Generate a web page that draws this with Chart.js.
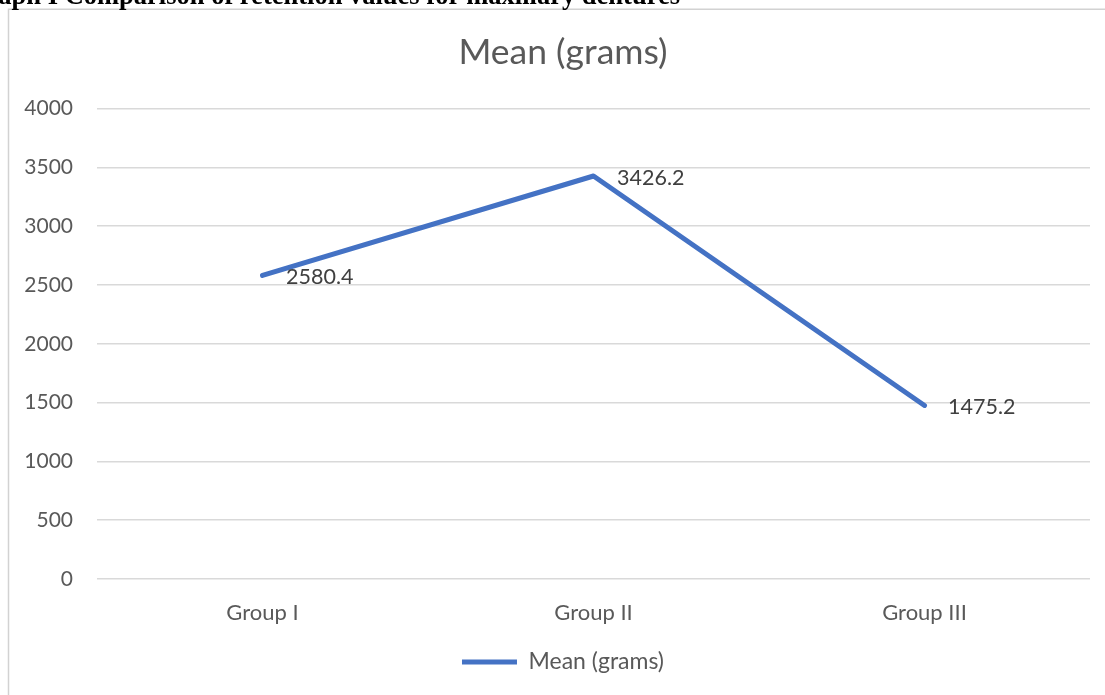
<!DOCTYPE html>
<html>
<head>
<meta charset="utf-8">
<script src="https://cdn.jsdelivr.net/npm/chart.js@4/dist/chart.umd.min.js"></script>
<style>
  html, body { margin: 0; padding: 0; background: #fff; overflow: hidden; }
  #wrap { position: relative; width: 1105px; height: 695px; overflow: hidden; }
  #chart { position: absolute; left: 0; top: 0; }
  #caption {
    position: absolute; right: 425px; top: -18px;
    font: bold 26.5px "Liberation Serif", "Times New Roman", serif;
    line-height: 26.5px; color: #000; white-space: nowrap;
  }
</style>
</head>
<body>
<div id="wrap">
  <canvas id="chart" width="1105" height="695"></canvas>
  <div id="caption">Graph I Comparison of retention values for maxillary dentures</div>
</div>
<script>
// Retention values (grams), maxillary dentures
const categories = ['Group I', 'Group II', 'Group III'];
const meanGrams = [2580.4, 3426.2, 1475.2];
const seriesName = 'Mean (grams)';
const yMin = 0;
const yMax = 4000;
const yStep = 500;

const FONT = 'Lato, Calibri, Carlito, "Open Sans", sans-serif';
const TEXT = '#595959';
const GRID = '#d9d9d9';
const LINE = '#4472C4';

// Light frame round the chart (left and top edges)
const framePlugin = {
  id: 'frame',
  beforeDraw(chart) {
    const ctx = chart.ctx;
    ctx.save();
    ctx.strokeStyle = '#d2d2d2';
    ctx.lineWidth = 1.5;
    ctx.beginPath();
    ctx.moveTo(8.5, 695);
    ctx.lineTo(8.5, 9.25);
    ctx.lineTo(1105, 9.25);
    ctx.stroke();
    ctx.restore();
  }
};

// Value labels placed to the right of each point
const valueLabels = {
  id: 'valueLabels',
  afterDatasetsDraw(chart) {
    const ctx = chart.ctx;
    const meta = chart.getDatasetMeta(0);
    const data = chart.data.datasets[0].data;
    ctx.save();
    ctx.font = '21.5px ' + FONT;
    ctx.fillStyle = '#404040';
    ctx.textAlign = 'left';
    ctx.textBaseline = 'middle';
    meta.data.forEach((pt, i) => {
      ctx.fillText(String(data[i]), pt.x + 23.5, pt.y + 2);
    });
    ctx.restore();
  }
};

new Chart(document.getElementById('chart'), {
  type: 'line',
  data: {
    labels: categories,
    datasets: [{
      label: seriesName,
      data: meanGrams,
      borderColor: LINE,
      backgroundColor: LINE,
      borderWidth: 5,
      borderCapStyle: 'round',
      borderJoinStyle: 'round',
      tension: 0,
      pointRadius: 0,
      pointHoverRadius: 0,
      fill: false
    }]
  },
  options: {
    responsive: false,
    devicePixelRatio: 1,
    animation: false,
    events: [],
    layout: { padding: { left: 21, right: 0, top: 0, bottom: 11.5 } },
    plugins: {
      title: {
        display: true,
        text: seriesName,
        color: TEXT,
        font: { family: FONT, size: 35.5, weight: 'normal' },
        padding: { top: 31.2, bottom: 34.7 }
      },
      legend: {
        display: true,
        position: 'bottom',
        labels: {
          usePointStyle: true,
          pointStyle: 'line',
          pointStyleWidth: 55,
          color: TEXT,
          font: { family: FONT, size: 23 },
          padding: 10
        }
      },
      tooltip: { enabled: false }
    },
    scales: {
      x: {
        offset: true,
        grid: { display: false, drawTicks: false },
        border: { display: false },
        ticks: { color: TEXT, font: { family: FONT, size: 22 }, padding: 20.3 },
        afterFit(scale) { scale.height = 61.5; }
      },
      y: {
        min: yMin,
        max: yMax,
        grid: { color: GRID, lineWidth: 1.5, drawTicks: false },
        border: { display: false },
        ticks: {
          stepSize: yStep,
          color: TEXT,
          font: { family: FONT, size: 21 },
          padding: 24,
          callback: (v) => String(v)
        },
        afterFit(scale) { scale.width = 76; }
      },
      // empty right-hand gutter so the plot ends short of the frame edge
      gutter: {
        type: 'linear',
        position: 'right',
        display: true,
        grid: { display: false, drawTicks: false },
        border: { display: false },
        ticks: { display: false },
        afterFit(scale) { scale.width = 15; }
      }
    }
  },
  plugins: [framePlugin, valueLabels]
});
</script>
</body>
</html>
